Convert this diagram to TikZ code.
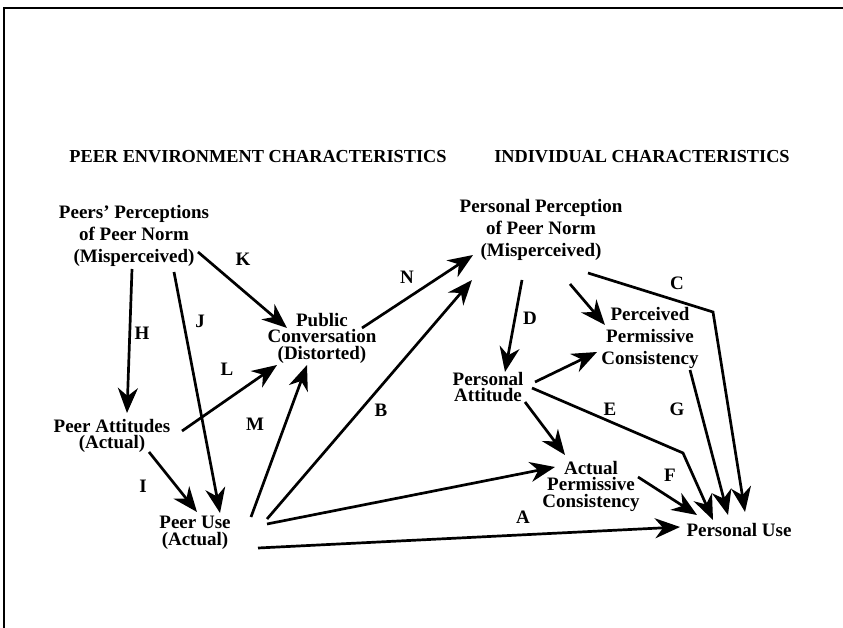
\documentclass[tikz,border=0pt]{standalone}
\usepackage{fontspec}
\setmainfont{Liberation Serif}
\usetikzlibrary{arrows.meta,calc}
\newcommand\mynolsl{\lineskiplimit=-100pt\relax}
\begin{document}
\begin{tikzpicture}[x=1pt,y=-1pt,
 lbl/.style={font=\fontsize{19}{22}\selectfont\bfseries\mynolsl, inner sep=0pt, align=center},
 tight/.style={font=\fontsize{19}{16.5}\selectfont\bfseries\mynolsl, inner sep=0pt, align=center},
 hdr/.style={font=\fontsize{18.3}{22}\selectfont\bfseries, inner sep=0pt},
 elab/.style={font=\fontsize{19}{22}\selectfont\bfseries, inner sep=0pt},
 arr/.style={line width=2.7pt, -{Stealth[length=25pt,width=20pt,inset=8pt]}},
 frame/.style={line width=2.2pt}]
\useasboundingbox (0,0) rectangle (843,628);
\coordinate (fb) at (4.3,628);
\coordinate (fc) at (4.3,7.7);
\coordinate (fr) at (843,7.7);
\draw[frame] (fb) -- (fc) -- (fr);

\node[hdr] (h1) at (258,157) {PEER ENVIRONMENT CHARACTERISTICS};
\node[hdr] (h2) at (642,157) {INDIVIDUAL CHARACTERISTICS};

\node[lbl] (ppn) at (134,236) {Peers’ Perceptions\\of Peer Norm\\(Misperceived)};
\node[tight] (pc) at (322,338) {Public\\Conversation\\(Distorted)};
\node[tight] (pa) at (112,436) {Peer Attitudes\\(Actual)};
\node[tight] (pu) at (195,533) {Peer Use\\(Actual)};
\node[lbl] (ppp) at (541,230) {Personal Perception\\of Peer Norm\\(Misperceived)};
\node[lbl] (perc) at (650,338) {Perceived\\Permissive\\Consistency};
\node[tight] (patt) at (488,387) {Personal\\Attitude};
\node[tight] (apc) at (591,486) {Actual\\Permissive\\Consistency};
\node[lbl] (puse) at (739,530) {Personal Use};

\node[elab] (lK) at (243,259) {K};
\node[elab] (lN) at (407,277) {N};
\node[elab] (lC) at (677,283) {C};
\node[elab] (lH) at (142,333) {H};
\node[elab] (lJ) at (200,321) {J};
\node[elab] (lL) at (227,369) {L};
\node[elab] (lM) at (255,424) {M};
\node[elab] (lB) at (381,410) {B};
\node[elab] (lI) at (143,486) {I};
\node[elab] (lD) at (530,318) {D};
\node[elab] (lE) at (610,409) {E};
\node[elab] (lG) at (677,409) {G};
\node[elab] (lF) at (670,475) {F};
\node[elab] (lA) at (523,517) {A};

\coordinate (cbend) at (713,312);
\coordinate (ebend) at (683,453);

\draw[arr] ($(ppn)+(64,16)$) -- ($(pc)+(-35,-10)$);
\draw[arr] ($(ppn)+(-2,33)$) -- ($(pa)+(15,-23)$);
\draw[arr] ($(ppn)+(40,36)$) -- ($(pu)+(25,-20)$);
\draw[arr] ($(pa)+(37,16)$) -- ($(pu)+(2,-21)$);
\draw[arr] ($(pa)+(70,-5)$) -- ($(pc)+(-45,27)$);
\draw[arr] ($(pu)+(56,-16)$) -- ($(pc)+(-15,27)$);
\draw[arr] ($(pu)+(72,-14)$) -- ($(ppp)+(-69,50)$);
\draw[arr] ($(pc)+(40,-10)$) -- ($(ppp)+(-68,25)$);
\draw[arr] ($(pu)+(72,-9)$) -- ($(apc)+(-36,-19)$);
\draw[arr] ($(pu)+(63,15)$) -- ($(puse)+(-59,-3)$);
\draw[arr] ($(ppp)+(-19,50)$) -- ($(patt)+(17,-15)$);
\draw[arr] ($(ppp)+(29,54)$) -- ($(perc)+(-45,-13)$);
\draw[arr] ($(ppp)+(47,43)$) -- (cbend) -- ($(puse)+(6,-18)$);
\draw[arr] ($(patt)+(47,-5)$) -- ($(perc)+(-53,14)$);
\draw[arr] ($(patt)+(37,15)$) -- ($(apc)+(-26,-31)$);
\draw[arr] ($(patt)+(44,1)$) -- (ebend) -- ($(puse)+(-26,-10)$);
\draw[arr] ($(perc)+(40,32)$) -- ($(puse)+(-11,-15)$);
\draw[arr] ($(apc)+(47,-9)$) -- ($(puse)+(-42,-15)$);
\end{tikzpicture}
\end{document}
